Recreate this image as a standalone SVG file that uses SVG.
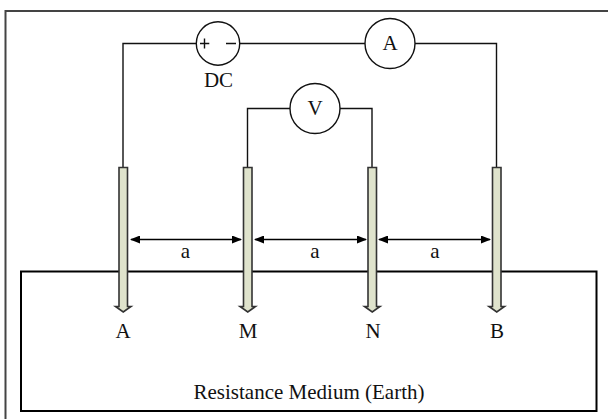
<svg xmlns="http://www.w3.org/2000/svg" width="608" height="419" viewBox="0 0 608 419">
<style>
text{font-family:"Liberation Serif","Times New Roman",serif;font-size:21px;fill:#111;text-anchor:middle}
.w{fill:none;stroke:#111;stroke-width:1.4}
.c{fill:#fff;stroke:#111;stroke-width:1.4}
.e{fill:#dfe3cc;stroke:#333;stroke-width:1.6}
.d{fill:none;stroke:#000;stroke-width:1.4;marker-start:url(#h);marker-end:url(#h)}
</style>
<defs><marker id="h" viewBox="0 0 10 8" refX="9" refY="4" markerWidth="10" markerHeight="8" markerUnits="userSpaceOnUse" orient="auto-start-reverse"><path d="M0 0L10 4L0 8z" fill="#000"/></marker></defs>
<rect width="608" height="419" fill="#fff"/>
<path d="M5.500 419V11H608" fill="none" stroke="#444" stroke-width="2"/>
<g id="earth"><rect x="21" y="271.500" width="575.500" height="139.500" fill="#fff" stroke="#000" stroke-width="2"/><text x="309" y="399">Resistance Medium (Earth)</text></g>
<g id="connectors">
<path class="w" d="M123 167V43.500H196M240 43.500H365M415 43.500H496.500V167M290 108.500H247.500V167M340 108.500H372V167"/>
<path class="d" d="M131 239.500H241"/>
<path class="d" d="M255 239.500H366"/>
<path class="d" d="M379 239.500H490"/>
</g>
<g id="dc"><circle class="c" cx="218" cy="43.500" r="21.700"/><path class="w" d="M200 43.500H209.300M204.500 38.500V48.500M226 43.500H236"/><text x="218.500" y="86.500">DC</text></g>
<g id="ammeter"><circle class="c" cx="390" cy="43.500" r="25"/><text x="390" y="50">A</text></g>
<g id="voltmeter"><circle class="c" cx="315" cy="108.500" r="25"/><text x="315" y="115">V</text></g>
<g id="electrode-a"><path class="e" d="M119 167.500H127.500V306.500H131L123.250 312L115.500 306.500H119z"/><text x="123" y="338">A</text></g>
<g id="electrode-m"><path class="e" d="M243.500 167.500H252V306.500H255.500L247.750 312L240 306.500H243.500z"/><text x="248" y="338">M</text></g>
<g id="electrode-n"><path class="e" d="M368 167.500H376.500V306.500H380L372.250 312L364.500 306.500H368z"/><text x="373" y="338">N</text></g>
<g id="electrode-b"><path class="e" d="M492.500 167.500H501V306.500H504.500L496.750 312L489 306.500H492.500z"/><text x="497" y="338">B</text></g>
<g id="labels"><text x="185.500" y="258">a</text><text x="315" y="258">a</text><text x="435" y="258">a</text></g>
</svg>
